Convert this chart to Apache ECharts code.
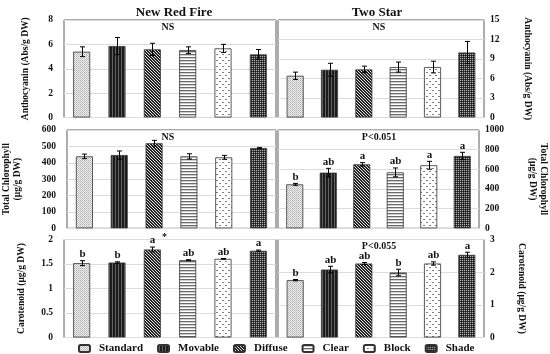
<!DOCTYPE html>
<html>
<head>
<meta charset="utf-8">
<script src="https://cdn.jsdelivr.net/npm/echarts@6/dist/echarts.min.js"></script>
<style>
html,body{margin:0;padding:0;background:#fff;}
#chart{width:550px;height:354px;}
</style>
</head>
<body>
<div id="chart"></div>
<script>
// ---- data ----
const categories = ['Standard', 'Movable', 'Diffuse', 'Clear', 'Block', 'Shade'];
const cultivars = ['New Red Fire', 'Two Star'];

const nrfAntho = [5.40, 5.86, 5.59, 5.53, 5.67, 5.18];
const nrfAnthoErr = [0.40, 0.70, 0.50, 0.27, 0.33, 0.40];
const nrfAnthoLetters = ['', '', '', '', '', ''];

const tsAntho = [6.42, 7.34, 7.40, 7.76, 7.76, 10.0];
const tsAnthoErr = [0.56, 1.00, 0.50, 0.77, 0.90, 1.70];
const tsAnthoLetters = ['', '', '', '', '', ''];

const nrfChl = [439, 447, 519, 439, 433, 490];
const nrfChlErr = [14, 25, 18, 16, 12, 4];
const nrfChlLetters = ['', '', '', '', '', ''];

const tsChl = [447, 566, 651, 569, 641, 736];
const tsChlErr = [10, 44, 17, 45, 40, 37];
const tsChlLetters = ['b', 'ab', 'a', 'ab', 'a', 'a'];

const nrfCar = [1.517, 1.53, 1.796, 1.578, 1.605, 1.77];
const nrfCarErr = [0.05, 0.015, 0.05, 0.01, 0.008, 0.015];
const nrfCarLetters = ['b', 'b', 'a', 'ab', 'ab', 'a'];
const nrfCarMarks = ['', '', '*', '', '', ''];

const tsCar = [1.755, 2.08, 2.265, 1.99, 2.265, 2.53];
const tsCarErr = [0.02, 0.10, 0.03, 0.10, 0.05, 0.08];
const tsCarLetters = ['b', 'ab', 'ab', 'b', 'ab', 'a'];

const panelNotes = ['NS', 'NS', 'NS', 'P<0.051', '', 'P<0.055'];
const yNames = ['Anthocyanin (Abs/g DW)', 'Anthocyanin (Abs/g DW)',
  'Total Chlorophyll\n(µg/g DW)', 'Total Chlorophyll\n(µg/g DW)',
  'Carotenoid (µg/g DW)', 'Carotenoid (µg/g DW)'];
const yMax = [8, 15, 600, 1000, 2, 3];
const yInterval = [2, 3, 100, 200, 0.5, 1];

// ---- patterns ----
function pat(w, h, draw) {
  const c = document.createElement('canvas');
  c.width = w; c.height = h;
  const g = c.getContext('2d');
  draw(g);
  return { image: c, repeat: 'repeat' };
}
function px(g, x, y, col) { g.fillStyle = col; g.fillRect(x, y, 1, 1); }
const patterns = [
  // Standard: light fine checker
  pat(2, 2, g => { g.fillStyle = '#f0f0f0'; g.fillRect(0, 0, 2, 2); px(g, 0, 0, '#b0b0b0'); px(g, 1, 1, '#c4c4c4'); }),
  // Movable: dark vertical stripes
  pat(3, 1, g => { g.fillStyle = '#1c1c1c'; g.fillRect(0, 0, 3, 1); px(g, 1, 0, '#626262'); }),
  // Diffuse: diagonal hatch
  pat(3, 3, g => { g.fillStyle = '#e8e8e8'; g.fillRect(0, 0, 3, 3);
    for (let y = 0; y < 3; y++) for (let x = 0; x < 3; x++) if (((x - y + 6) % 3) < 2) px(g, x, y, '#202020'); }),
  // Clear: horizontal stripes
  pat(1, 3, g => { g.fillStyle = '#ffffff'; g.fillRect(0, 0, 1, 3); px(g, 0, 0, '#6a6a6a'); px(g, 0, 1, '#cfcfcf'); }),
  // Block: sparse dots
  pat(6, 6, g => { g.fillStyle = '#ffffff'; g.fillRect(0, 0, 6, 6);
    g.fillStyle = '#808080'; g.fillRect(0, 0, 2, 1); g.fillRect(3, 3, 2, 1); }),
  // Shade: dark checker
  pat(2, 2, g => { g.fillStyle = '#3a3a3a'; g.fillRect(0, 0, 2, 2); px(g, 0, 0, '#b0b0b0'); px(g, 1, 1, '#1a1a1a'); })
];

const FONT = 'Liberation Serif';
const values = [nrfAntho, tsAntho, nrfChl, tsChl, nrfCar, tsCar];
const errs = [nrfAnthoErr, tsAnthoErr, nrfChlErr, tsChlErr, nrfCarErr, tsCarErr];
const letters = [nrfAnthoLetters, tsAnthoLetters, nrfChlLetters, tsChlLetters, nrfCarLetters, tsCarLetters];
const marks = [null, null, null, null, nrfCarMarks, null];

const colLeft = [64, 278];
const colWidth = [212, 206];
const rowTop = [20, 130, 239.5];
const rowHeight = [97.5, 98.3, 98];
const nameGap = [33, 38, 44, 48, 37, 32];

const grids = [], xAxes = [], yAxes = [], series = [], graphics = [];
for (let p = 0; p < 6; p++) {
  const col = p % 2, row = Math.floor(p / 2);
  grids.push({ left: colLeft[col], top: rowTop[row], width: colWidth[col], height: rowHeight[row],
    show: true, borderColor: '#5a5a5a', borderWidth: 1, backgroundColor: 'transparent' });
  xAxes.push({ type: 'category', gridIndex: p, data: categories,
    axisLine: { show: false }, axisTick: { show: false }, axisLabel: { show: false } });
  yAxes.push({ type: 'value', gridIndex: p, min: 0, max: yMax[p], interval: yInterval[p],
    position: col === 0 ? 'left' : 'right',
    axisLine: { show: false }, axisTick: { show: false },
    splitLine: { lineStyle: { color: '#dcdcdc', width: 1 } },
    axisLabel: { fontFamily: FONT, fontWeight: 'bold', fontSize: 9.5, color: '#111', margin: col === 0 ? 11 : 6,
      formatter: v => String(v) },
    name: yNames[p], nameLocation: 'middle', nameGap: nameGap[p], nameRotate: col === 0 ? 90 : -90,
    nameTextStyle: { fontFamily: FONT, fontWeight: 'bold', fontSize: 9.5, color: '#111', lineHeight: 11 } });
  series.push({
    type: 'bar', xAxisIndex: p, yAxisIndex: p, barWidth: 17, silent: true,
    data: values[p].map((v, i) => ({ value: v,
      itemStyle: { color: patterns[i], borderColor: '#333', borderWidth: 0.8 } }))
  });
  const L = letters[p], M = marks[p], E = errs[p];
  series.push({
    type: 'custom', xAxisIndex: p, yAxisIndex: p, silent: true, z: 5,
    data: values[p].map((v, i) => [i, v, E[i]]),
    renderItem: function (params, api) {
      const i = api.value(0), v = api.value(1), e = api.value(2);
      const top = api.coord([i, v + e]);
      const bot = api.coord([i, v - e]);
      const x = Math.round(top[0]) + 0.5;
      const cw = 2.5;
      const children = [
        { type: 'line', shape: { x1: x, y1: top[1], x2: x, y2: bot[1] }, style: { stroke: '#000', lineWidth: 1 } },
        { type: 'line', shape: { x1: x - cw, y1: top[1], x2: x + cw, y2: top[1] }, style: { stroke: '#000', lineWidth: 1 } },
        { type: 'line', shape: { x1: x - cw, y1: bot[1], x2: x + cw, y2: bot[1] }, style: { stroke: '#000', lineWidth: 1 } }
      ];
      const idx = params.dataIndex;
      if (L[idx]) {
        children.push({ type: 'text', x: x, y: top[1] - 1,
          style: { text: L[idx], fontFamily: FONT, fontWeight: 'bold', fontSize: 11, fill: '#111',
            align: 'center', verticalAlign: 'bottom' } });
      }
      if (M && M[idx]) {
        children.push({ type: 'text', x: x + 12, y: top[1] - 5,
          style: { text: M[idx], fontFamily: FONT, fontWeight: 'bold', fontSize: 10, fill: '#111',
            align: 'center', verticalAlign: 'bottom' } });
      }
      return { type: 'group', children: children };
    }
  });
  if (panelNotes[p]) {
    graphics.push({ type: 'text', x: colLeft[col] + colWidth[col] / 2 - 2, y: rowTop[row] + 2,
      style: { text: panelNotes[p], fontFamily: FONT, fontWeight: 'bold', fontSize: 10, fill: '#111', textAlign: 'center' } });
  }
}
// legend helper grid (hidden)
grids.push({ left: 0, top: 0, width: 1, height: 1, show: false });
xAxes.push({ type: 'category', gridIndex: 6, show: false, data: categories });
yAxes.push({ type: 'value', gridIndex: 6, show: false });
categories.forEach((c, i) => {
  series.push({ type: 'bar', name: c, xAxisIndex: 6, yAxisIndex: 6, data: [],
    itemStyle: { color: patterns[i], borderColor: '#333', borderWidth: 0.8 } });
});

const titleX = [174, 377];
cultivars.forEach((t, i) => {
  graphics.push({ type: 'text', x: titleX[i], y: 6,
    style: { text: t, fontFamily: FONT, fontWeight: 'bold', fontSize: 13, fill: '#111', textAlign: 'center' } });
});

const chart = echarts.init(document.getElementById('chart'), null, { renderer: 'canvas' });
chart.setOption({
  animation: false,
  backgroundColor: '#ffffff',
  grid: grids, xAxis: xAxes, yAxis: yAxes, series: series,
  graphic: graphics,
  legend: {
    data: categories, left: 73, top: 338, itemWidth: 11, itemHeight: 7, itemGap: 14,
    selectedMode: false,
    textStyle: { fontFamily: FONT, fontWeight: 'bold', fontSize: 11, color: '#111', padding: [0, 0, 0, 4] }
  }
});
</script>
</body>
</html>
